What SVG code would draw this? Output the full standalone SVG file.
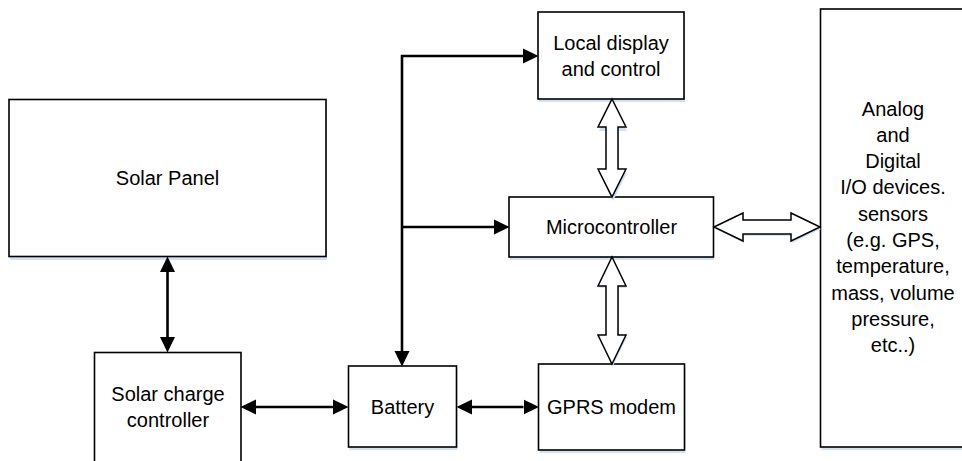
<svg xmlns="http://www.w3.org/2000/svg" width="962" height="461" viewBox="0 0 962 461">
<style>
.box{fill:#fff;stroke:#000;stroke-width:1.6}
.shadow{fill:#d3e1f2;stroke:none}
.t{font-family:"Liberation Sans",Arial,sans-serif;font-size:20px;fill:#000;text-anchor:middle}
.ln{fill:none;stroke:#000;stroke-width:2.6;stroke-linejoin:miter}
.hollow{fill:#fff;stroke:#000;stroke-width:1.5;stroke-linejoin:miter}
</style>
<defs>
<marker id="ah" markerUnits="userSpaceOnUse" markerWidth="16" markerHeight="16" refX="0" refY="7.5" orient="auto-start-reverse" viewBox="0 0 16 15">
<path d="M0,0 L15.5,7.5 L0,15 z" fill="#000"/>
</marker>
</defs>
<rect width="962" height="461" fill="#fff"/>
<g id="solar-panel">
<rect class="shadow" x="10" y="102" width="317" height="158"/>
<rect class="box" x="9" y="99.5" width="317" height="157"/>
<text class="t" x="167.5" y="185">Solar Panel</text>
</g>
<g id="charge-controller">
<rect class="box" x="94.5" y="352.5" width="146.5" height="130"/>
<text class="t" x="168" y="401">Solar charge</text>
<text class="t" x="168" y="427">controller</text>
</g>
<g id="battery">
<rect class="shadow" x="349.5" y="369" width="108" height="81"/>
<rect class="box" x="348.5" y="366" width="108" height="81"/>
<text class="t" x="402.5" y="414">Battery</text>
</g>
<g id="gprs">
<rect class="shadow" x="539.5" y="367" width="146" height="86"/>
<rect class="box" x="538.5" y="364" width="146" height="86"/>
<text class="t" x="611.5" y="414">GPRS modem</text>
</g>
<g id="microcontroller">
<rect class="shadow" x="510" y="200" width="204" height="60"/>
<rect class="box" x="509" y="197" width="204.5" height="60"/>
<text class="t" x="611.5" y="234">Microcontroller</text>
</g>
<g id="local-display">
<rect class="shadow" x="539" y="15" width="146" height="87"/>
<rect class="box" x="538" y="12" width="146" height="87"/>
<text class="t" x="611" y="50">Local display</text>
<text class="t" x="611" y="76">and control</text>
</g>
<g id="io-devices">
<rect class="shadow" x="821.5" y="12" width="200" height="438"/>
<rect class="box" x="820.5" y="9" width="200" height="438"/>
<text class="t" x="893" y="116">Analog</text>
<text class="t" x="893" y="142">and</text>
<text class="t" x="893" y="168">Digital</text>
<text class="t" x="893" y="194">I/O devices.</text>
<text class="t" x="893" y="221">sensors</text>
<text class="t" x="893" y="247">(e.g. GPS,</text>
<text class="t" x="893" y="273">temperature,</text>
<text class="t" x="893" y="300">mass, volume</text>
<text class="t" x="893" y="326">pressure,</text>
<text class="t" x="893" y="352">etc..)</text>
</g>
<g id="connectors">
<path class="ln" d="M402,351 V56 H523" marker-start="url(#ah)" marker-end="url(#ah)"/>
<path class="ln" d="M402,227 H494" marker-end="url(#ah)"/>
<path class="ln" d="M167.5,272 V337" marker-start="url(#ah)" marker-end="url(#ah)"/>
<path class="ln" d="M256,407 H333" marker-start="url(#ah)" marker-end="url(#ah)"/>
<path class="ln" d="M472,407 H523.5" marker-start="url(#ah)" marker-end="url(#ah)"/>
<polygon class="shadow" points="612,101 626,129 618,129 618,171 626,171 612,199 598,171 606,171 606,129 598,129" transform="translate(1,2)"/>
<polygon class="hollow" points="612,99 626,127 618,127 618,169 626,169 612,197 598,169 606,169 606,127 598,127"/>
<polygon class="shadow" points="612,257 626,286 618,286 618,335 626,335 612,364 598,335 606,335 606,286 598,286" transform="translate(1,2)"/>
<polygon class="hollow" points="612,257 626,286 618,286 618,335 626,335 612,364 598,335 606,335 606,286 598,286"/>
<polygon class="shadow" points="714,227 743,213 743,220 791,220 791,213 820,227 791,241 791,234 743,234 743,241" transform="translate(1,2)"/>
<polygon class="hollow" points="714,227 743,213 743,220 791,220 791,213 820,227 791,241 791,234 743,234 743,241"/>
</g>
</svg>
